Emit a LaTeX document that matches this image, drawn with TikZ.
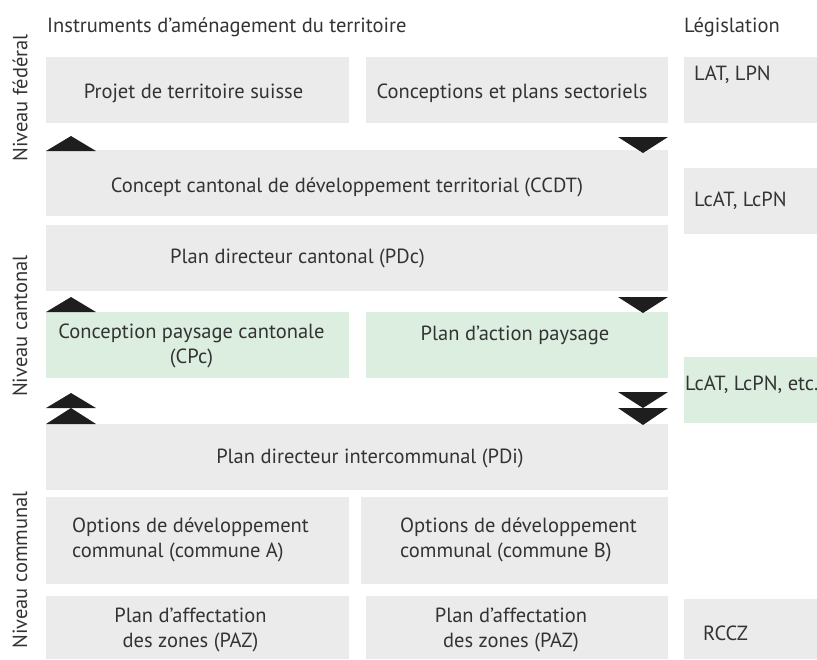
\documentclass[tikz,border=0pt]{standalone}
\usepackage{fontspec}
\setmainfont{PT Sans}
\usetikzlibrary{calc}
\definecolor{boxgray}{HTML}{EBEBEB}
\definecolor{boxgreen}{HTML}{DCEEDF}
\definecolor{txtcol}{HTML}{333333}
\definecolor{tricol}{HTML}{1E1E1E}
\newcommand\mybox[6]{%
  \node[#6, minimum width={(#4-#2)*1pt}, minimum height={(#5-#3)*1pt}, anchor=north west] (#1) at (#2,#3) {};}
\begin{document}
\begin{tikzpicture}[x=1pt,y=-1pt,
  graybox/.style={fill=boxgray, draw=none, inner sep=0pt, outer sep=0pt},
  greenbox/.style={fill=boxgreen, draw=none, inner sep=0pt, outer sep=0pt},
  txt/.style={text=txtcol, inner sep=0pt, font=\fontsize{20.5}{25}\selectfont, align=center},
  ltxt/.style={txt, align=left},
  vlab/.style={txt, rotate=90},
  tri/.style={fill=tricol, draw=none}]
\useasboundingbox (0,0) rectangle (817,659);
% boxes
\mybox{prj}{46}{57}{349}{123}{graybox}
\mybox{cps}{366}{57}{668}{123}{graybox}
\mybox{lat}{684}{57}{817}{123}{graybox}
\mybox{ccdt}{46}{150}{668}{216}{graybox}
\mybox{lcat}{684}{168}{817}{234}{graybox}
\mybox{pdc}{46}{225}{668}{291}{graybox}
\mybox{cpc}{46}{312}{349}{378}{greenbox}
\mybox{pap}{366}{312}{668}{378}{greenbox}
\mybox{lcetc}{684}{357}{817}{423}{greenbox}
\mybox{pdi}{46}{424}{668}{490}{graybox}
\mybox{oda}{46}{497}{349}{584}{graybox}
\mybox{odb}{361}{497}{668}{584}{graybox}
\mybox{paza}{46}{596}{349}{659}{graybox}
\mybox{pazb}{366}{596}{668}{659}{graybox}
\mybox{rccz}{684}{599}{817}{659}{graybox}
% headers
\node[ltxt, anchor=west] (hinst) at (47,27) {Instruments d’aménagement du territoire};
\node[ltxt, anchor=west] (hleg) at (684,27) {Législation};
% vertical labels
\node[vlab] (nf) at (20,98) {Niveau fédéral};
\node[vlab] (nca) at (20,326) {Niveau cantonal};
\node[vlab] (nco) at (20,570) {Niveau communal};
% texts
\node[txt] (tprj) at ($(prj.center)+(-4,3)$) {Projet de territoire suisse};
\node[txt] (tcps) at ($(cps.center)+(-5,3)$) {Conceptions et plans sectoriels};
\node[ltxt, anchor=west] (tlat) at ($(lat.north west)+(10,18)$) {LAT, LPN};
\node[txt] (tccdt) at ($(ccdt.center)+(-10,4)$) {Concept cantonal de développement territorial (CCDT)};
\node[ltxt, anchor=west] (tlcat) at ($(lcat.west)+(10,0)$) {LcAT, LcPN};
\node[ltxt, anchor=west] (tpdc) at ($(pdc.west)+(124,0)$) {Plan directeur cantonal (PDc)};
\node[txt] (tcpc) at ($(cpc.center)+(-6,1)$) {Conception paysage cantonale\\(CPc)};
\node[txt] (tpap) at ($(pap.north)+(-2,23)$) {Plan d’action paysage};
\node[ltxt, anchor=west] (tlcetc) at ($(lcetc.west)+(1,-5)$) {LcAT, LcPN, etc.};
\node[txt] (tpdi) at ($(pdi.center)+(13,1)$) {Plan directeur intercommunal (PDi)};
\node[ltxt, anchor=west] (toda) at ($(oda.west)+(26,-1)$) {Options de développement\\communal (commune A)};
\node[ltxt, anchor=west] (todb) at ($(odb.west)+(39,-1)$) {Options de développement\\communal (commune B)};
\node[txt] (tpaza) at ($(paza.center)+(-7,2)$) {Plan d’affectation\\des zones (PAZ)};
\node[txt] (tpazb) at ($(pazb.center)+(-6,2)$) {Plan d’affectation\\des zones (PAZ)};
\node[ltxt, anchor=west] (trccz) at ($(rccz.west)+(19,4)$) {RCCZ};
% triangles
\fill[tri] ($(ccdt.north west)+(0,1)$) -- ++(50,0) -- ++(-25,-15) -- cycle;
\fill[tri] ($(ccdt.north east)+(0,-13)$) -- ++(-50,0) -- ++(25,16) -- cycle;
\fill[tri] ($(cpc.north west)+(0,0)$) -- ++(50,0) -- ++(-25,-15) -- cycle;
\fill[tri] ($(pap.north east)+(0,-15)$) -- ++(-50,0) -- ++(25,16) -- cycle;
\fill[tri] ($(pdi.north west)+(0,0)$) -- ++(50,0) -- ++(-25,-16) -- cycle;
\fill[tri] ($(pdi.north west)+(0,-16)$) -- ++(50,0) -- ++(-25,-15) -- cycle;
\fill[tri] ($(pdi.north east)+(0,-32)$) -- ++(-50,0) -- ++(25,16) -- cycle;
\fill[tri] ($(pdi.north east)+(0,-16)$) -- ++(-50,0) -- ++(25,17) -- cycle;
\end{tikzpicture}
\end{document}
